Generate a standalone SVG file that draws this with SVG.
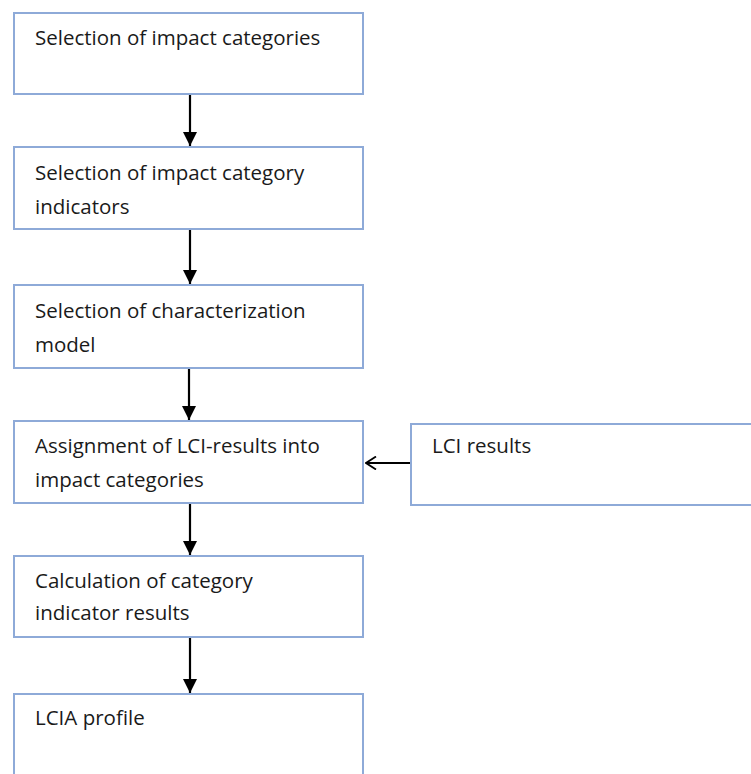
<svg xmlns="http://www.w3.org/2000/svg" width="751" height="774" viewBox="0 0 751 774">
<defs>
<style>
.box{fill:#fff;stroke:#8eaad8;stroke-width:2}
.t{font-family:"Open Sans","Liberation Sans",sans-serif;font-size:20.5px;fill:#1a1a1a}
.c{stroke:#000;stroke-width:2.2;fill:none}
</style>
<marker id="ah" viewBox="0 0 10 10" refX="10" refY="5" markerWidth="14" markerHeight="14" markerUnits="userSpaceOnUse" orient="auto">
<path d="M0,0 L10,5 L0,10 z" fill="#000"/>
</marker>
<marker id="oh" viewBox="0 0 12 14" refX="11" refY="7" markerWidth="12" markerHeight="14" markerUnits="userSpaceOnUse" orient="auto">
<path d="M1,0.5 L11,7 L1,13.5" fill="none" stroke="#000" stroke-width="1.8"/>
</marker>
</defs>
<rect width="751" height="774" fill="#fff"/>
<g id="n1"><rect class="box" x="14" y="13" width="349" height="81"/><text class="t" x="35" y="45">Selection of impact categories</text></g>
<g id="n2"><rect class="box" x="14" y="147" width="349" height="82"/><text class="t" x="35" y="180">Selection of impact category</text><text class="t" x="35" y="214">indicators</text></g>
<g id="n3"><rect class="box" x="14" y="285" width="349" height="83"/><text class="t" x="35" y="318">Selection of characterization</text><text class="t" x="35" y="352">model</text></g>
<g id="n4"><rect class="box" x="14" y="421" width="349" height="82"/><text class="t" x="35" y="453">Assignment of LCI-results into</text><text class="t" x="35" y="487">impact categories</text></g>
<g id="n5"><rect class="box" x="411" y="424" width="345" height="81"/><text class="t" x="432" y="453">LCI results</text></g>
<g id="n6"><rect class="box" x="14" y="556" width="349" height="81"/><text class="t" x="35" y="588">Calculation of category</text><text class="t" x="35" y="620">indicator results</text></g>
<g id="n7"><rect class="box" x="14" y="694" width="349" height="90"/><text class="t" x="35" y="725">LCIA profile</text></g>
<g id="connectors">
<line class="c" x1="190" y1="95" x2="190" y2="146" marker-end="url(#ah)"/>
<line class="c" x1="190" y1="230" x2="190" y2="284" marker-end="url(#ah)"/>
<line class="c" x1="189" y1="369" x2="189" y2="420" marker-end="url(#ah)"/>
<line class="c" x1="190" y1="504" x2="190" y2="555" marker-end="url(#ah)"/>
<line class="c" x1="190" y1="638" x2="190" y2="693" marker-end="url(#ah)"/>
<line class="c" x1="410" y1="463" x2="366" y2="463" marker-end="url(#oh)"/>
</g>
</svg>
